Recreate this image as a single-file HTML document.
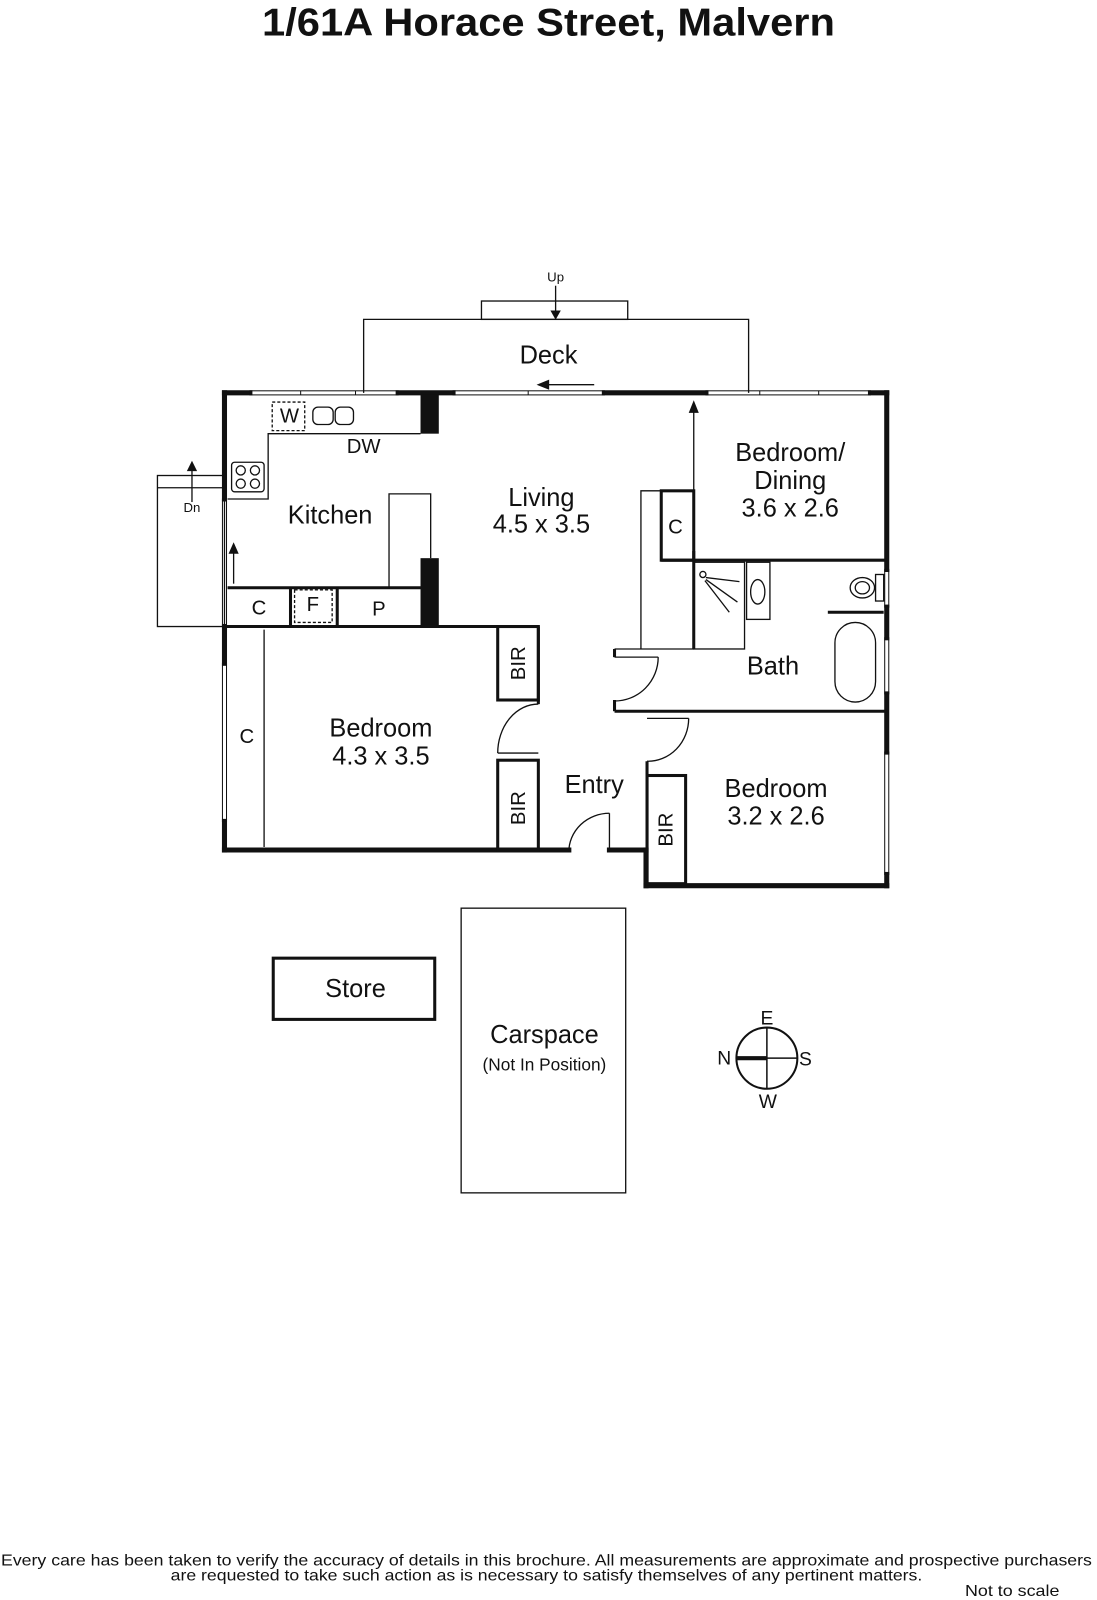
<!DOCTYPE html>
<html><head><meta charset="utf-8"><style>
html,body{margin:0;padding:0;background:#fff}
svg{display:block}
text{font-family:"Liberation Sans",sans-serif;fill:#111}
</style></head><body>
<svg width="1097" height="1600" viewBox="0 0 1080 1568" preserveAspectRatio="none" xmlns="http://www.w3.org/2000/svg">
<text x="258" y="35" font-size="38" font-weight="bold" textLength="564" lengthAdjust="spacingAndGlyphs">1/61A Horace Street, Malvern</text>
<g stroke="#111" fill="none" stroke-width="1.3">
<rect x="474" y="295" width="144" height="18"/>
<polyline points="358,385 358,313 737,313 737,385"/>
<line x1="547" y1="280" x2="547" y2="308"/><polygon points="543,305 551,305 547,312" fill="#111"/>
<rect x="155" y="466" width="66" height="148"/>
<line x1="155" y1="478" x2="221" y2="478"/>
<line x1="189" y1="492" x2="189" y2="458"/><polygon points="185,461 193,461 189,453" fill="#111"/>
<line x1="585" y1="377" x2="535" y2="377"/><polygon points="540,373 540,381 530,377" fill="#111"/>
<line x1="230" y1="572" x2="230" y2="538"/><polygon points="226,542 234,542 230,533" fill="#111"/>
<line x1="683" y1="540" x2="683" y2="400"/><polygon points="679,404 687,404 683,394" fill="#111"/>
</g>
<g stroke="#111" fill="none" stroke-width="5" stroke-linecap="square">
<line x1="221" y1="385" x2="246" y2="385"/><line x1="392" y1="385" x2="446" y2="385"/>
<line x1="595" y1="385" x2="695" y2="385"/><line x1="857" y1="385" x2="873" y2="385"/>
<line x1="221" y1="385" x2="221" y2="489"/><line x1="221" y1="614" x2="221" y2="650"/><line x1="221" y1="805" x2="221" y2="833"/>
<line x1="221" y1="833" x2="560" y2="833"/><line x1="600" y1="833" x2="636" y2="833"/>
<line x1="636" y1="833" x2="636" y2="868"/><line x1="636" y1="868" x2="873" y2="868"/>
<line x1="873" y1="385" x2="873" y2="558"/><line x1="873" y1="595" x2="873" y2="625"/><line x1="873" y1="680" x2="873" y2="737"/><line x1="873" y1="857" x2="873" y2="868"/>
</g>
<g stroke="#111" fill="none" stroke-width="1">
<rect x="246" y="383" width="146" height="4"/><line x1="296" y1="383" x2="296" y2="387"/><line x1="350" y1="383" x2="350" y2="387"/>
<rect x="446" y="383" width="149" height="4"/><line x1="520" y1="383" x2="520" y2="387"/>
<rect x="695" y="383" width="162" height="4"/><line x1="748" y1="383" x2="748" y2="387"/><line x1="806" y1="383" x2="806" y2="387"/>
<rect x="219" y="489" width="4" height="125"/><rect x="219" y="650" width="4" height="155"/>
<rect x="871" y="558" width="4" height="37"/><rect x="871" y="625" width="4" height="55"/><rect x="871" y="737" width="4" height="120"/>
</g>
<g fill="#111">
<rect x="414" y="387" width="18" height="38"/>
<rect x="414" y="547" width="18" height="67"/>
</g>
<g stroke="#111" fill="none" stroke-width="1.3">
<polyline points="414,425 264,425 264,489 224,489"/>
<rect x="268" y="394" width="32" height="28" stroke-dasharray="3,2"/>
<rect x="308" y="399" width="20" height="17" rx="5"/><rect x="330" y="399" width="18" height="17" rx="5"/>
<rect x="228" y="453" width="32" height="29" rx="3"/>
<circle cx="237" cy="461" r="4.5"/><circle cx="251" cy="461" r="4.5"/><circle cx="237" cy="474" r="4.5"/><circle cx="251" cy="474" r="4.5"/>
<polyline points="383,576 383,484 424,484 424,547"/>
<rect x="290" y="578" width="37" height="32" stroke-dasharray="3,2"/>
<line x1="260" y1="617" x2="260" y2="830"/>
<polyline points="631,636 631,481 651,481"/>
<rect x="683" y="551" width="50" height="85"/>
<rect x="735" y="551" width="23" height="56"/><ellipse cx="746" cy="580" rx="7" ry="12"/>
<ellipse cx="849" cy="576" rx="12" ry="10"/><ellipse cx="849" cy="576" rx="7" ry="6"/><rect x="862" y="563" width="8" height="26"/>
<rect x="822" y="610" width="40" height="78" rx="20"/>
<circle cx="692" cy="563" r="3"/><line x1="695" y1="566" x2="728" y2="570"/><line x1="695" y1="568" x2="726" y2="590"/><line x1="694" y1="569" x2="718" y2="600"/>
<line x1="683" y1="636" x2="605" y2="636"/>
<path d="M530 690 A 40 48 0 0 0 490 738"/><line x1="490" y1="738" x2="530" y2="738"/>
<path d="M600 797 A 40 38 0 0 0 560 835"/><line x1="600" y1="797" x2="600" y2="833"/>
<path d="M648 644 A 43 43 0 0 1 605 687"/><line x1="605" y1="644" x2="648" y2="644"/>
<path d="M678 704 A 40 42 0 0 1 637 746"/><line x1="637" y1="704" x2="678" y2="704"/>
</g>
<g stroke="#111" fill="none" stroke-width="3">
<line x1="224" y1="576" x2="414" y2="576"/>
<line x1="286" y1="576" x2="286" y2="614"/><line x1="332" y1="576" x2="332" y2="614"/>
<line x1="221" y1="614" x2="530" y2="614"/>
<rect x="490" y="614" width="40" height="72"/><line x1="530" y1="614" x2="530" y2="690"/>
<rect x="490" y="745" width="40" height="88"/>
<rect x="651" y="481" width="32" height="68"/>
<line x1="651" y1="549" x2="873" y2="549"/>
<line x1="683" y1="540" x2="683" y2="636"/>
<line x1="815" y1="600" x2="870" y2="600"/>
<line x1="605" y1="697" x2="873" y2="697"/><line x1="605" y1="686" x2="605" y2="697"/><line x1="605" y1="636" x2="605" y2="644"/>
<line x1="637" y1="746" x2="637" y2="868"/>
<rect x="637" y="760" width="38" height="106"/>
<rect x="269" y="939" width="159" height="60"/>
</g>
<rect x="454" y="890" width="162" height="279" stroke="#111" fill="none" stroke-width="1.3"/>
<circle cx="755" cy="1037" r="30" stroke="#111" stroke-width="2" fill="none"/>
<line x1="755" y1="1007" x2="755" y2="1067" stroke="#111" stroke-width="1.5"/>
<line x1="755" y1="1037" x2="785" y2="1037" stroke="#111" stroke-width="1.5"/>
<line x1="725" y1="1037" x2="755" y2="1037" stroke="#111" stroke-width="4"/>
<g font-size="19" text-anchor="middle">
<text x="755" y="1004">E</text><text x="713" y="1043">N</text><text x="793" y="1044">S</text><text x="756" y="1086">W</text>
</g>
<g text-anchor="middle" font-size="25">
<text x="540" y="356">Deck</text>
<text x="325" y="513">Kitchen</text>
<text x="533" y="496">Living</text><text x="533" y="522">4.5 x 3.5</text>
<text x="778" y="452">Bedroom/</text><text x="778" y="479">Dining</text><text x="778" y="506">3.6 x 2.6</text>
<text x="761" y="661">Bath</text>
<text x="375" y="722">Bedroom</text><text x="375" y="749">4.3 x 3.5</text>
<text x="585" y="777">Entry</text>
<text x="764" y="781">Bedroom</text><text x="764" y="808">3.2 x 2.6</text>
<text x="350" y="977">Store</text>
<text x="536" y="1022">Carspace</text>
</g>
<g text-anchor="middle" font-size="20">
<text x="358" y="444">DW</text>
<text x="255" y="602">C</text><text x="308" y="599">F</text><text x="373" y="603">P</text>
<text x="243" y="728">C</text><text x="665" y="523">C</text>
<text x="285" y="414">W</text>
<text transform="translate(517,650) rotate(-90)">BIR</text>
<text transform="translate(517,792) rotate(-90)">BIR</text>
<text transform="translate(662,813) rotate(-90)">BIR</text>
</g>
<text x="536" y="1049" font-size="17" text-anchor="middle">(Not In Position)</text>
<text x="547" y="276" font-size="13" text-anchor="middle">Up</text>
<text x="189" y="502" font-size="13" text-anchor="middle">Dn</text>
<g font-size="15">
<text x="1" y="1534" textLength="1074" lengthAdjust="spacingAndGlyphs">Every care has been taken to verify the accuracy of details in this brochure.  All measurements are approximate and prospective purchasers</text>
<text x="168" y="1549" textLength="740" lengthAdjust="spacingAndGlyphs">are requested to take such action as is necessary to satisfy themselves of any pertinent matters.</text>
<text x="950" y="1564" textLength="93" lengthAdjust="spacingAndGlyphs">Not to scale</text>
</g>
</svg>
</body></html>
